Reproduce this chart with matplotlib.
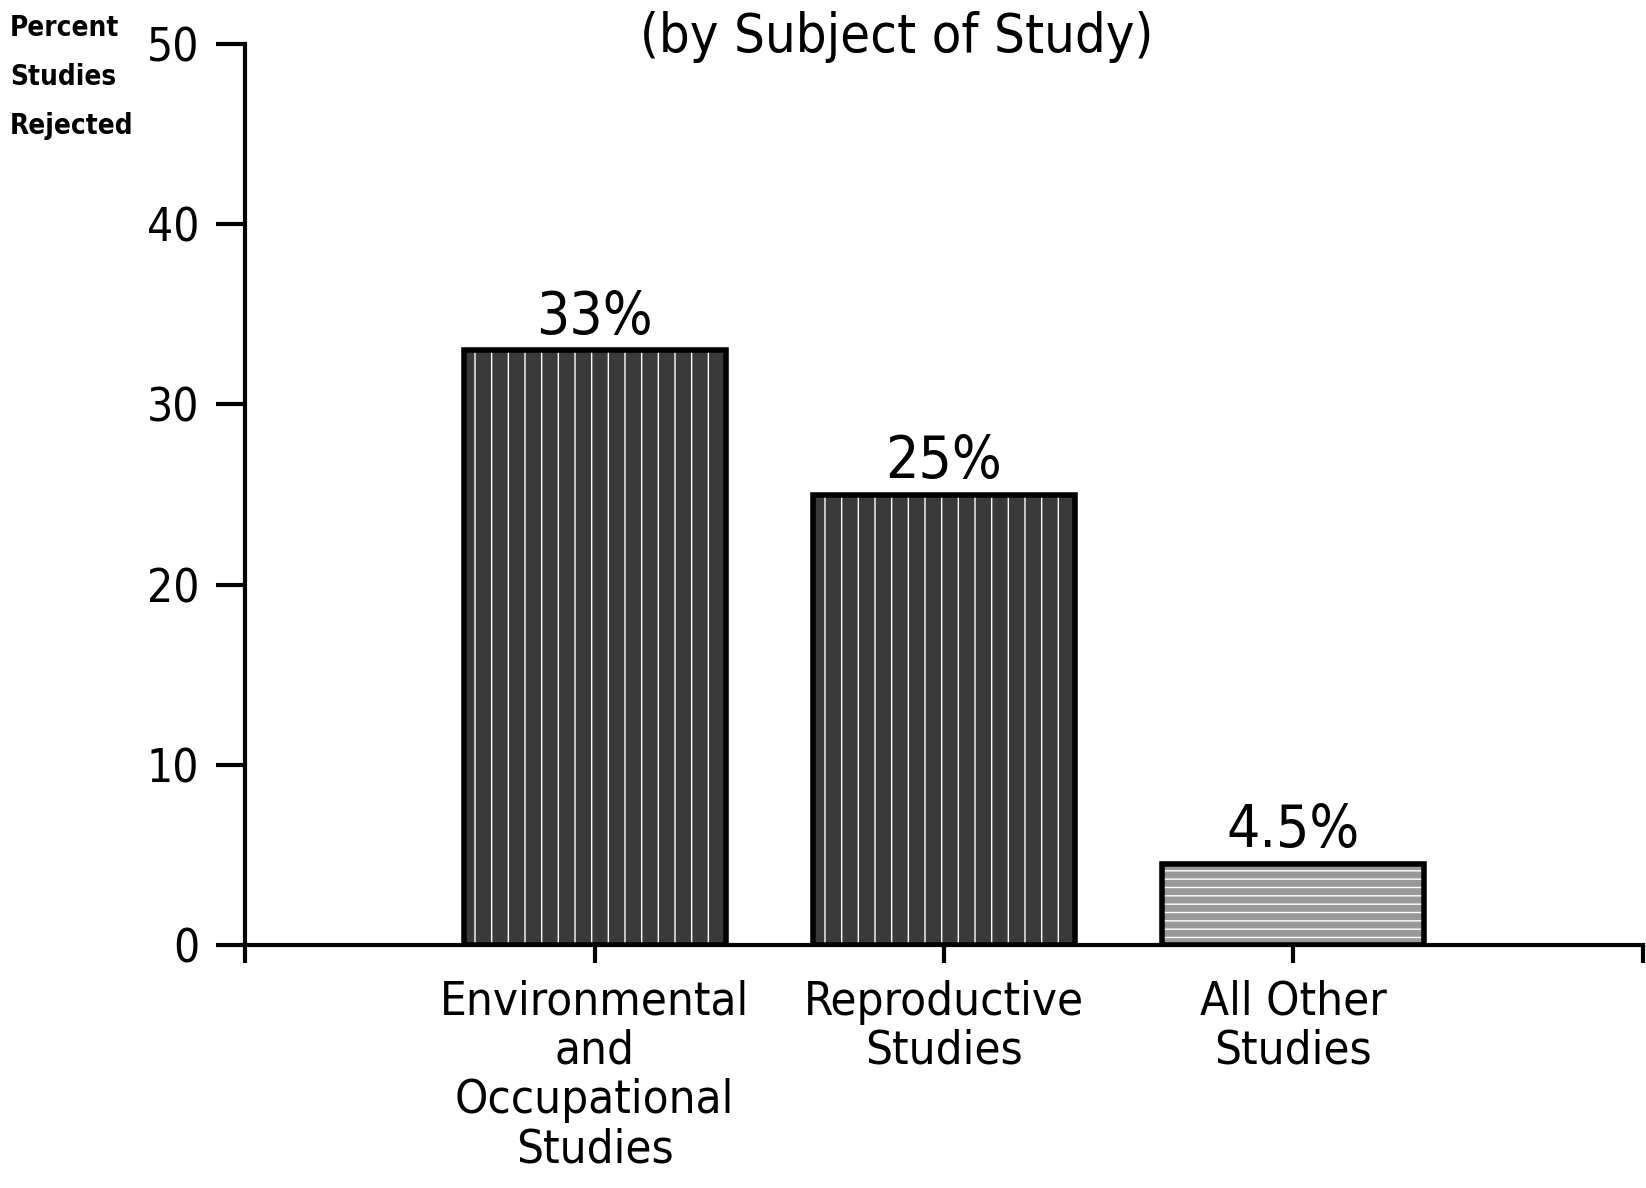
import matplotlib
matplotlib.use("Agg")
import matplotlib.pyplot as plt

# =========================
# DATA
# =========================
categories = ["Environmental\nand\nOccupational\nStudies", "Reproductive\nStudies", "All Other\nStudies"]
values = [33, 25, 4.5]
value_labels = ["33%", "25%", "4.5%"]
y_ticks = [0, 10, 20, 30, 40, 50]

plt.rcParams["font.family"] = ["DejaVu Sans"]
plt.rcParams["font.stretch"] = "condensed"

fig = plt.figure(figsize=(16.46, 11.88), dpi=100)
ax = fig.add_axes([0.149, 0.2045, 0.849, 0.7585])

x = [1, 2, 3]
# dark speckled bars: gray fill with white streaks, then a black outline
ax.bar(x[:2], values[:2], width=0.75, color="#3a3a3a", edgecolor="white",
       hatch="|", linewidth=0, zorder=2)
ax.bar(x[:2], values[:2], width=0.75, fill=False, edgecolor="black",
       linewidth=4, zorder=3)
# light bar with horizontal lines
ax.bar(x[2], values[2], width=0.75, color="#999999", edgecolor="white",
       hatch="--", linewidth=0, zorder=2)
ax.bar(x[2], values[2], width=0.75, fill=False, edgecolor="black",
       linewidth=4, zorder=3)

for xi, v, lab in zip(x, values, value_labels):
    ax.text(xi, v + 0.25, lab, ha="center", va="bottom", fontsize=42)

ax.set_xlim(0, 4)
ax.set_ylim(0, 50)
ax.set_yticks(y_ticks)
ax.set_xticks(x)
ax.set_xticks([0, 4], minor=True)
ax.set_xticklabels(categories, fontsize=34, linespacing=1.12)
ax.tick_params(axis="y", length=21, width=3, labelsize=33, pad=12)
ax.tick_params(axis="x", which="both", length=13, width=3, pad=12, direction="out")

for side in ["top", "right"]:
    ax.spines[side].set_visible(False)
for side in ["left", "bottom"]:
    ax.spines[side].set_linewidth(3)

fig.text(0.545, 0.969, "(by Subject of Study)", ha="center", va="center", fontsize=39)
fig.text(0.006, 0.988, "Percent\nStudies\nRejected", ha="left", va="top",
         fontsize=20, fontweight="bold", linespacing=1.95)

fig.savefig("out.png", dpi=100)
